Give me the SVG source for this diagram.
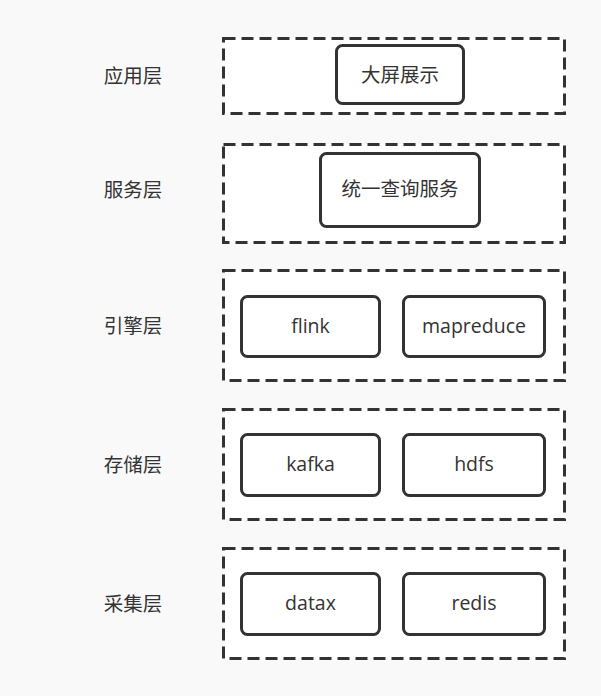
<svg xmlns="http://www.w3.org/2000/svg" width="601" height="696" viewBox="0 0 601 696">
<style>
.layer{fill:#ffffff;stroke:#333333;stroke-width:3;stroke-dasharray:12 6}
.node{fill:#ffffff;stroke:#333333;stroke-width:3}
text{font-family:"Open Sans","Noto Sans CJK SC",sans-serif;font-size:19.5px;fill:#333333;text-anchor:middle;dominant-baseline:central}
</style>
<rect width="601" height="696" fill="#f9f9f9"/>
<g id="layer-app">
<rect class="layer" x="223.5" y="38.5" width="341" height="75"/>
<text x="133" y="75">应用层</text>
</g>
<g id="node-dapingzhanshi">
<rect class="node" x="336.5" y="45.5" width="127" height="58" rx="6"/>
<text x="400" y="74">大屏展示</text>
</g>
<g id="layer-service">
<rect class="layer" x="223.5" y="144.5" width="341" height="98"/>
<text x="133" y="189">服务层</text>
</g>
<g id="node-query">
<rect class="node" x="320.5" y="153.5" width="159" height="73" rx="6"/>
<text x="400" y="188">统一查询服务</text>
</g>
<g id="layer-engine">
<rect class="layer" x="223.5" y="270.5" width="341" height="110"/>
<text x="133" y="325">引擎层</text>
</g>
<g id="node-flink">
<rect class="node" x="241.5" y="296.5" width="138" height="60" rx="6"/>
<text x="310.5" y="325">flink</text>
</g>
<g id="node-mapreduce">
<rect class="node" x="403.5" y="296.5" width="141" height="60" rx="6"/>
<text x="474" y="325">mapreduce</text>
</g>
<g id="layer-storage">
<rect class="layer" x="223.5" y="409.5" width="341" height="110"/>
<text x="133" y="464">存储层</text>
</g>
<g id="node-kafka">
<rect class="node" x="241.5" y="434.5" width="138" height="61" rx="6"/>
<text x="310.5" y="463">kafka</text>
</g>
<g id="node-hdfs">
<rect class="node" x="403.5" y="434.5" width="141" height="61" rx="6"/>
<text x="474" y="463">hdfs</text>
</g>
<g id="layer-collect">
<rect class="layer" x="223.5" y="548.5" width="341" height="110"/>
<text x="133" y="603">采集层</text>
</g>
<g id="node-datax">
<rect class="node" x="241.5" y="573.5" width="138" height="61" rx="6"/>
<text x="310.5" y="602">datax</text>
</g>
<g id="node-redis">
<rect class="node" x="403.5" y="573.5" width="141" height="61" rx="6"/>
<text x="474" y="602">redis</text>
</g>
<g id="connectors"></g>
</svg>
